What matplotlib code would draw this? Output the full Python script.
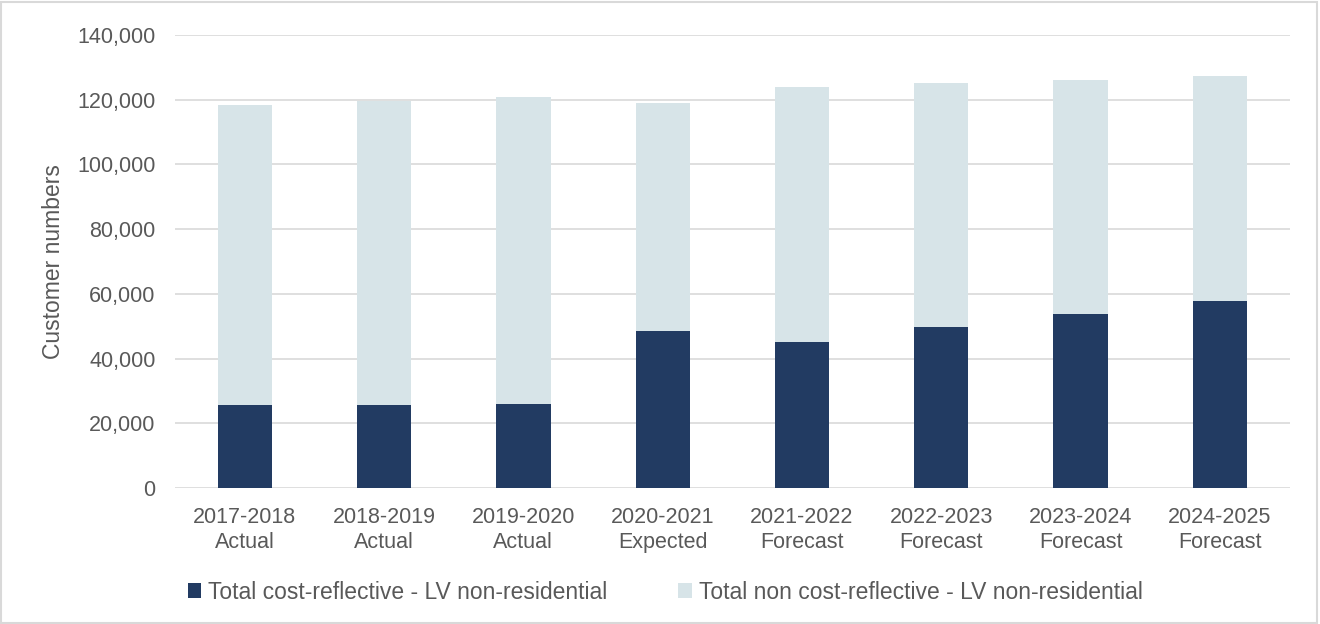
import matplotlib.pyplot as plt
from matplotlib.patches import Rectangle

# data
years = ['2017-2018', '2018-2019', '2019-2020', '2020-2021',
         '2021-2022', '2022-2023', '2023-2024', '2024-2025']
status = ['Actual', 'Actual', 'Actual', 'Expected',
          'Forecast', 'Forecast', 'Forecast', 'Forecast']
cost_reflective = [25600, 25600, 26100, 48500, 45100, 49700, 53800, 57900]
non_cost_reflective = [92900, 94100, 94700, 70600, 78700, 75300, 72200, 69400]

dark = '#223B62'
light = '#D7E4E8'
grey = '#595959'

plt.rcParams['font.family'] = ['Liberation Sans', 'DejaVu Sans']

fig = plt.figure(figsize=(13.2, 6.24), dpi=100)
ax = fig.add_axes([0.1326, 0.218, 0.8444, 0.726])

labels = [f'{y}\n{s}' for y, s in zip(years, status)]
x = range(len(labels))
ax.bar(x, cost_reflective, width=0.39, color=dark, zorder=3,
       label='Total cost-reflective - LV non-residential')
ax.bar(x, non_cost_reflective, width=0.39, bottom=cost_reflective, color=light,
       zorder=3, label='Total non cost-reflective - LV non-residential')

ax.set_xlim(-0.5, len(labels) - 0.5)
ax.set_ylim(0, 140000)
ax.set_yticks(range(0, 140001, 20000))
ax.yaxis.set_major_formatter(plt.FuncFormatter(lambda v, p: f'{int(v):,}'))
ax.set_xticks(list(x))
ax.set_xticklabels(labels, linespacing=1.2)
ax.tick_params(axis='both', length=0, colors=grey, labelsize=15.5)
ax.tick_params(axis='x', pad=14)
ax.tick_params(axis='y', pad=14)
ax.grid(axis='y', color='#D9D9D9', linewidth=1.2, zorder=0)
for s in ax.spines.values():
    s.set_visible(False)
ax.set_ylabel('Customer numbers', color=grey, fontsize=16.5, labelpad=9)

leg = fig.legend(loc='center', bbox_to_anchor=(0.504, 0.051), ncol=2, frameon=False,
                 fontsize=16.5, handlelength=0.6, handleheight=0.6,
                 handletextpad=0.3, columnspacing=3.1)
for t in leg.get_texts():
    t.set_color(grey)

fig.patches.append(Rectangle((0.001, 0.002), 0.997, 0.995, transform=fig.transFigure,
                             fill=False, edgecolor='#D9D9D9', linewidth=1.5))

fig.savefig('out.png', dpi=100)
